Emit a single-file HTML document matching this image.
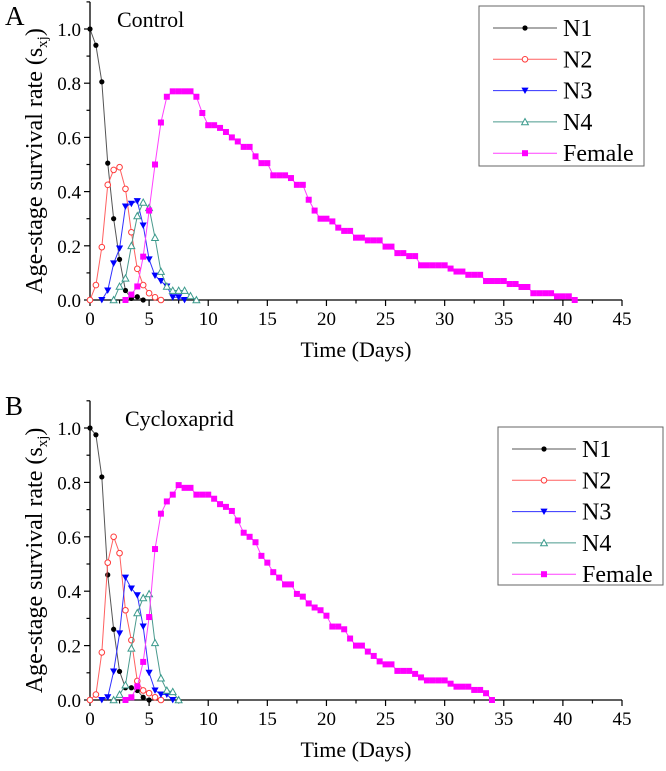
<!DOCTYPE html>
<html><head><meta charset="utf-8"><style>
body{margin:0;background:#fff}
svg{display:block}
text{font-family:"Liberation Serif","Times New Roman",serif}
</style></head><body>
<svg id="chart" width="666" height="771" viewBox="0 0 666 771" xmlns="http://www.w3.org/2000/svg" font-family="Liberation Serif, serif"></svg>
<script>
const xTicks=[0,5,10,15,20,25,30,35,40,45];
const yTicks=[0,0.2,0.4,0.6,0.8,1.0];
const seriesNames=["N1","N2","N3","N4","Female"];
// Control
const aN1x=[0,0.5,1,1.5,2,2.5,3,3.5,4,4.5];
const aN1=[1.0,0.94,0.805,0.505,0.3,0.15,0.035,0.006,0.012,0];
const aN2x=[0,0.5,1,1.5,2,2.5,3,3.5,4,4.5,5,5.5,6];
const aN2=[0,0.055,0.195,0.425,0.48,0.49,0.41,0.25,0.115,0.055,0.025,0.01,0];
const aN3x=[1,1.5,2,2.5,3,3.5,4,4.5,5,5.5,6,6.5,7,7.5,8];
const aN3=[0,0.035,0.135,0.19,0.345,0.355,0.365,0.275,0.15,0.09,0.07,0.05,0.01,0.01,0];
const aN4x=[2,2.5,3,3.5,4,4.5,5,5.5,6,6.5,7,7.5,8,8.5,9];
const aN4=[0,0.05,0.08,0.2,0.31,0.36,0.34,0.23,0.105,0.05,0.035,0.035,0.035,0.015,0];
const aFx=[3,3.5,4,4.5,5,5.5,6,6.5,7,7.5,8,8.5,9,9.5,10,10.5,11,11.5,12,12.5,13,13.5,14,14.5,15,15.5,16,16.5,17,17.5,18,18.5,19,19.5,20,20.5,21,21.5,22,22.5,23,23.5,24,24.5,25,25.5,26,26.5,27,27.5,28,28.5,29,29.5,30,30.5,31,31.5,32,32.5,33,33.5,34,34.5,35,35.5,36,36.5,37,37.5,38,38.5,39,39.5,40,40.5,41];
const aF=[0,0.02,0.05,0.16,0.33,0.5,0.655,0.75,0.77,0.77,0.77,0.77,0.75,0.69,0.645,0.645,0.635,0.62,0.6,0.585,0.565,0.565,0.53,0.505,0.505,0.46,0.46,0.46,0.45,0.425,0.425,0.37,0.33,0.3,0.3,0.29,0.267,0.255,0.255,0.23,0.23,0.22,0.22,0.22,0.197,0.197,0.173,0.173,0.162,0.162,0.128,0.128,0.128,0.128,0.128,0.116,0.105,0.105,0.093,0.093,0.093,0.07,0.07,0.07,0.07,0.059,0.059,0.048,0.048,0.025,0.025,0.025,0.025,0.0135,0.0135,0.0135,0];
// Cycloxaprid
const bN1x=[0,0.5,1,1.5,2,2.5,3,3.5,4,4.5,5];
const bN1=[1.0,0.975,0.82,0.46,0.26,0.105,0.045,0.045,0.035,0.01,0];
const bN2x=[0,0.5,1,1.5,2,2.5,3,3.5,4,4.5,5,5.5,6];
const bN2=[0,0.02,0.175,0.505,0.6,0.54,0.33,0.22,0.07,0.035,0.025,0.01,0];
const bN3x=[1,1.5,2,2.5,3,3.5,4,4.5,5,5.5,6,6.5,7];
const bN3=[0,0.01,0.105,0.245,0.45,0.41,0.385,0.27,0.1,0.035,0.02,0.02,0];
const bN4x=[2,2.5,3,3.5,4,4.5,5,5.5,6,6.5,7,7.5];
const bN4=[0,0.02,0.055,0.19,0.32,0.375,0.39,0.21,0.08,0.035,0.03,0];
const bFx=[3,3.5,4,4.5,5,5.5,6,6.5,7,7.5,8,8.5,9,9.5,10,10.5,11,11.5,12,12.5,13,13.5,14,14.5,15,15.5,16,16.5,17,17.5,18,18.5,19,19.5,20,20.5,21,21.5,22,22.5,23,23.5,24,24.5,25,25.5,26,26.5,27,27.5,28,28.5,29,29.5,30,30.5,31,31.5,32,32.5,33,33.5,34];
const bF=[0,0.01,0.05,0.14,0.305,0.555,0.685,0.73,0.755,0.79,0.78,0.78,0.755,0.755,0.755,0.74,0.72,0.71,0.695,0.66,0.615,0.6,0.58,0.53,0.505,0.47,0.45,0.425,0.425,0.39,0.38,0.355,0.34,0.33,0.31,0.27,0.27,0.26,0.226,0.2,0.2,0.178,0.162,0.142,0.131,0.131,0.107,0.107,0.107,0.096,0.083,0.072,0.072,0.072,0.072,0.06,0.049,0.049,0.049,0.037,0.037,0.025,0];

const NS="http://www.w3.org/2000/svg";
const svg=document.getElementById('chart');
const FF='"Liberation Serif", serif';
function el(tag,attrs,parent){const e=document.createElementNS(NS,tag);for(const k in attrs)e.setAttribute(k,attrs[k]);if(tag==='text')e.style.fontFamily=FF;(parent||svg).appendChild(e);return e;}
const colors=["#000","#ff3b3b","#0000ff","#3a9a8c","#ff00ff"];
const lineColors=["#555","#ff6060","#3030ff","#4a9a8e","#ff40ff"];
function marker(g,kind,cx,cy){
  let m;
  if(kind===0)m=el('circle',{cx,cy,r:2.6,fill:'#000'},g);
  else if(kind===1)m=el('circle',{cx,cy,r:2.8,fill:'#fff',stroke:colors[1],'stroke-width':1},g);
  else if(kind===2)m=el('polygon',{points:`${cx-3.6},${cy-3} ${cx+3.6},${cy-3} ${cx},${cy+3.4}`,fill:colors[2]},g);
  else if(kind===3)m=el('polygon',{points:`${cx-3.4},${cy+2.8} ${cx+3.4},${cy+2.8} ${cx},${cy-3.4}`,fill:'#fff',stroke:colors[3],'stroke-width':1},g);
  else m=el('rect',{x:cx-3,y:cy-3,width:6,height:6,fill:colors[4]},g);
  
  
}
function panel(opt){
  const X0=90,X45=622,Y0=opt.y0,Y1=opt.y1;
  const sx=v=>X0+(X45-X0)*v/45, sy=v=>Y0-(Y0-Y1)*v;
  const top=sy(1.1);
  const g=el('g',{});
  
  
  const ax=el('g',{},g);
  
  
  el('line',{x1:X0,y1:Y0,x2:X45,y2:Y0,stroke:'#000','stroke-width':1.3},ax);
  el('line',{x1:X0,y1:Y0,x2:X0,y2:top,stroke:'#000','stroke-width':1.3},ax);
  for(let d=0;d<=45;d+=2.5){const major=d%5===0;el('line',{x1:sx(d),y1:Y0,x2:sx(d),y2:Y0+(major?6:3.5),stroke:'#000','stroke-width':1.2},ax);}
  for(let k=0;k<=11;k++){const v=k/10;const major=k%2===0;el('line',{x1:X0,y1:sy(v),x2:X0-(major?6:3.5),y2:sy(v),stroke:'#000','stroke-width':1.2},ax);}
  xTicks.forEach(t=>{const tx=el('text',{x:sx(t),y:Y0+25,'text-anchor':'middle','font-size':19},ax);tx.textContent=t;});
  yTicks.forEach(t=>{const tx=el('text',{x:X0-9,y:sy(t)+7,'text-anchor':'end','font-size':19},ax);tx.textContent=t.toFixed(1);});
  const xt=el('text',{x:356,y:Y0+57,'text-anchor':'middle','font-size':22},g);xt.textContent='Time (Days)';
  
  const ycx=42, ycy=(Y0+top)/2+10;
  const yt=el('text',{x:ycx,y:ycy,'text-anchor':'middle','font-size':24,transform:`rotate(-90 ${ycx} ${ycy})`},g);
  yt.innerHTML='Age-stage survival rate (s<tspan font-size="15" dy="5">xj</tspan><tspan dy="-5">)</tspan>';
  
  const pl=el('text',{x:5,y:opt.labY,'font-size':27},g);pl.textContent=opt.letter;
  
  const tl=el('text',{x:opt.tX,y:opt.tY,'font-size':22},g);tl.textContent=opt.title;
  
  opt.series.forEach((s,i)=>{
    const sg=el('g',{},g);
    
    
    el('polyline',{points:s[0].map((x,j)=>sx(x)+','+sy(s[1][j])).join(' '),fill:'none',stroke:lineColors[i],'stroke-width':1},sg);
    s[0].forEach((x,j)=>marker(sg,i,sx(x),sy(s[1][j])));
  });
  const L=opt.leg;
  const lg=el('g',{},g);
  
  
  el('rect',{x:L.x,y:L.y,width:L.w,height:L.h,fill:'#fff',stroke:'#666','stroke-width':1},lg);
  seriesNames.forEach((n,i)=>{
    const e=el('g',{},lg);
    
    
    const cy=L.y+22+i*31.3;
    el('line',{x1:L.x+14,y1:cy,x2:L.x+78,y2:cy,stroke:lineColors[i],'stroke-width':1},e);
    marker(e,i,L.x+46,cy);
    const t=el('text',{x:L.x+84,y:cy+8,'font-size':24},e);t.textContent=n;
  });
}
panel({name:'panel-a-control',letter:'A',title:'Control',y0:300,y1:29,labY:25,tX:117,tY:27,
  series:[[aN1x,aN1],[aN2x,aN2],[aN3x,aN3],[aN4x,aN4],[aFx,aF]],leg:{x:479,y:6,w:165,h:160}});
panel({name:'panel-b-cycloxaprid',letter:'B',title:'Cycloxaprid',y0:700,y1:428,labY:415,tX:125,tY:426,
  series:[[bN1x,bN1],[bN2x,bN2],[bN3x,bN3],[bN4x,bN4],[bFx,bF]],leg:{x:498,y:427,w:165,h:158}});
</script>
</body></html>
